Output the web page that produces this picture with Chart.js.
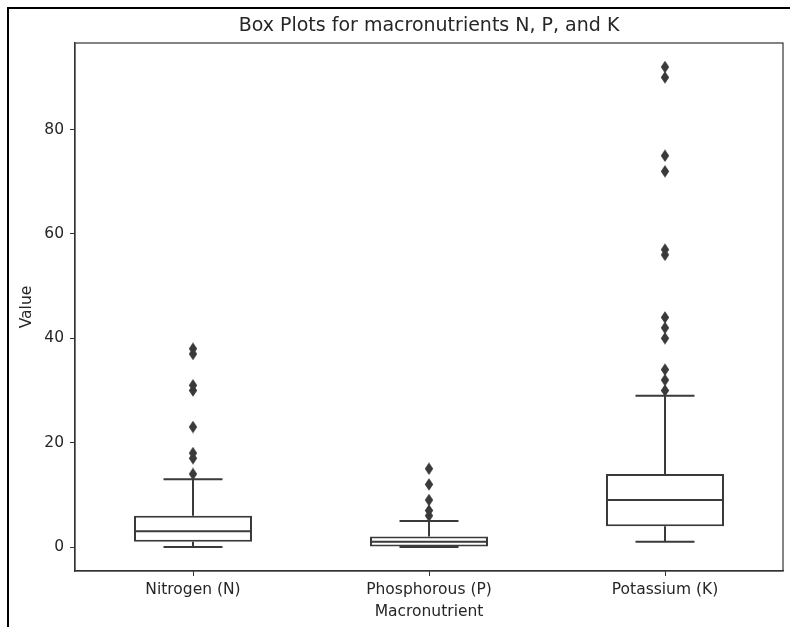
<!DOCTYPE html>
<html>
<head>
<meta charset="utf-8">
<script src="https://cdn.jsdelivr.net/npm/chart.js@4"></script>
<style>
  html, body { margin: 0; padding: 0; background: #fff; }
  #wrap { position: relative; width: 790px; height: 627px; }
  #frame { position: absolute; left: 7px; top: 7px; width: 790px; height: 627px;
           border-left: 2px solid #000; border-top: 2px solid #000; pointer-events: none; }
</style>
</head>
<body>
<div id="wrap">
  <canvas id="c" width="790" height="627"></canvas>
  <div id="frame"></div>
</div>
<script>
const categories = ['Nitrogen (N)', 'Phosphorous (P)', 'Potassium (K)'];
const whiskerLow  = [0, 0, 1];
const q1          = [1, 0, 4];
const medians     = [3, 1, 9];
const q3          = [6, 2, 14];
const whiskerHigh = [13, 5, 29];
const outliersN = [14, 17, 18, 23, 30, 31, 37, 38];
const outliersP = [6, 7, 9, 12, 15];
const outliersK = [30, 32, 34, 40, 42, 44, 56, 57, 72, 75, 90, 92];
const yTicks = [0, 20, 40, 60, 80];

const LINE = '#3a3a3a';
const TEXT = '#262626';
const FONT = 'DejaVu Sans';

const outlierPoints = []
  .concat(outliersN.map(v => ({x: categories[0], y: v})))
  .concat(outliersP.map(v => ({x: categories[1], y: v})))
  .concat(outliersK.map(v => ({x: categories[2], y: v})));

// thin diamond marker
const diamond = document.createElement('canvas');
diamond.width = 10; diamond.height = 13;
(function(){
  const g = diamond.getContext('2d');
  g.fillStyle = LINE;
  g.beginPath();
  g.moveTo(5, 0.3); g.lineTo(9.2, 6.5); g.lineTo(5, 12.7); g.lineTo(0.8, 6.5);
  g.closePath(); g.fill();
})();

const boxExtras = {
  id: 'boxExtras',
  afterDatasetsDraw(chart) {
    const {ctx, scales: {x, y}} = chart;
    const meta = chart.getDatasetMeta(1);
    ctx.save();
    ctx.strokeStyle = LINE;
    ctx.lineWidth = 2;
    ctx.lineCap = 'butt';
    categories.forEach((c, i) => {
      const bar = meta.data[i];
      const cx = x.getPixelForValue(i);
      const half = bar.width / 2;
      const capHalf = half / 2;
      const yMed = y.getPixelForValue(medians[i]);
      const yQ1 = y.getPixelForValue(q1[i]);
      const yQ3 = y.getPixelForValue(q3[i]);
      const yLo = y.getPixelForValue(whiskerLow[i]);
      const yHi = y.getPixelForValue(whiskerHigh[i]);
      ctx.beginPath();
      ctx.moveTo(cx - half, yMed); ctx.lineTo(cx + half, yMed);
      ctx.moveTo(cx, yQ3); ctx.lineTo(cx, yHi);
      ctx.moveTo(cx, yQ1); ctx.lineTo(cx, yLo);
      ctx.moveTo(cx - capHalf, yHi); ctx.lineTo(cx + capHalf, yHi);
      ctx.moveTo(cx - capHalf, yLo); ctx.lineTo(cx + capHalf, yLo);
      ctx.stroke();
    });
    ctx.restore();
  },
  afterDraw(chart) {
    const {ctx, chartArea: a} = chart;
    ctx.save();
    ctx.strokeStyle = '#333';
    ctx.lineWidth = 1.2;
    ctx.strokeRect(a.left, a.top, a.right - a.left, a.bottom - a.top);
    ctx.restore();
  }
};

new Chart(document.getElementById('c'), {
  type: 'bar',
  data: {
    labels: categories,
    datasets: [
      {
        type: 'line',
        data: outlierPoints,
        showLine: false,
        pointStyle: diamond,
        pointRadius: 5,
        pointHoverRadius: 5,
        backgroundColor: LINE,
        borderColor: LINE,
        order: 0
      },
      {
        type: 'bar',
        data: categories.map((c, i) => [q1[i], q3[i]]),
        backgroundColor: '#ffffff',
        borderColor: LINE,
        borderWidth: 2,
        borderSkipped: false,
        categoryPercentage: 1.0,
        barPercentage: 0.5,
        order: 1
      }
    ]
  },
  options: {
    responsive: false,
    animation: false,
    devicePixelRatio: 1,
    layout: { padding: { top: 0, right: 7, bottom: 0, left: 0 } },
    plugins: {
      legend: { display: false },
      tooltip: { enabled: false },
      title: {
        display: true,
        fullSize: false,
        text: 'Box Plots for macronutrients N, P, and K',
        color: TEXT,
        font: { family: FONT, size: 19, weight: 'normal' },
        padding: { top: 15, bottom: 5.2 }
      }
    },
    scales: {
      x: {
        type: 'category',
        offset: true,
        grid: { display: true, offset: false, drawOnChartArea: false, drawTicks: true, tickLength: 5, color: '#333' },
        border: { display: true, color: '#333', width: 1.2 },
        ticks: { color: TEXT, font: { family: FONT, size: 15.5 }, padding: 4.7, maxRotation: 0 },
        title: { display: true, text: 'Macronutrient', color: TEXT, font: { family: FONT, size: 15.5 }, padding: { top: 0, bottom: 5.7 } },
        afterFit(s) { s.height = 56; }
      },
      y: {
        type: 'linear',
        min: -4.6,
        max: 96.6,
        afterBuildTicks(s) { s.ticks = yTicks.map(v => ({ value: v })); },
        grid: { display: true, drawOnChartArea: false, drawTicks: true, tickLength: 5, color: '#333' },
        border: { display: true, color: '#333', width: 1.2 },
        ticks: { color: TEXT, font: { family: FONT, size: 15.5 }, padding: 6 },
        title: { display: true, text: 'Value', color: TEXT, font: { family: FONT, size: 15.5 }, padding: { top: 17.7, bottom: 0 } },
        afterFit(s) { s.width = 75; }
      }
    }
  },
  plugins: [boxExtras]
});
</script>
</body>
</html>
